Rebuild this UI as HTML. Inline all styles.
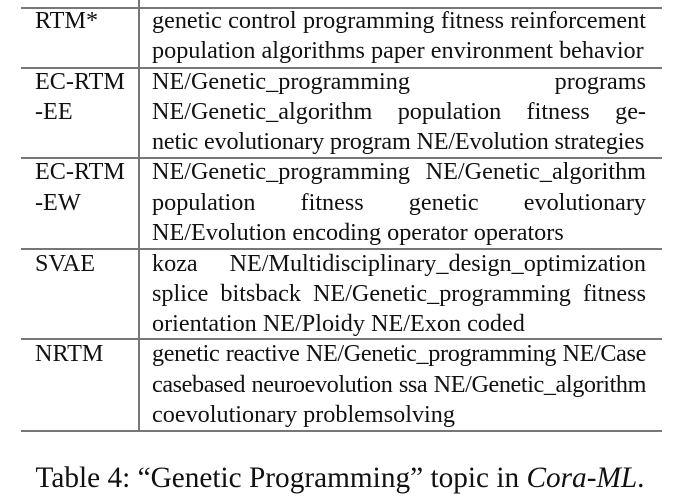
<!DOCTYPE html>
<html><head><meta charset="utf-8"><style>
body{margin:0;width:680px;height:500px;background:#fff;position:relative;overflow:hidden;font-family:"Liberation Serif",serif;color:#111}
.l{position:absolute;font-size:24.2px;line-height:30px;white-space:nowrap}
.c{left:152px;width:494px;text-align:justify;text-align-last:justify}
.e{text-align-last:left}
.k{left:35px}
.h{position:absolute;left:21px;width:641px;height:2px;background:#777}
.v{position:absolute;left:138px;width:2px;top:0;height:432px;background:#777}
.cap{position:absolute;left:0;width:680px;top:461px;text-align:center;font-size:29.3px;line-height:34px}
</style></head><body>
<div class="v"></div>
<div class="h" style="top:7px"></div>
<div class="h" style="top:67px"></div>
<div class="h" style="top:157px"></div>
<div class="h" style="top:248px"></div>
<div class="h" style="top:338px"></div>
<div class="h" style="top:430px;height:2px"></div>

<div class="l k" style="top:6px">RTM*</div>
<div class="l c" style="top:6px">genetic control programming fitness reinforcement</div>
<div class="l c e" style="top:36px">population algorithms paper environment behavior</div>

<div class="l k" style="top:67px">EC-RTM</div>
<div class="l k" style="top:97px">-EE</div>
<div class="l c" style="top:67px">NE/Genetic_programming programs</div>
<div class="l c" style="top:97px">NE/Genetic_algorithm population fitness ge-</div>
<div class="l c e" style="top:127px;letter-spacing:-0.18px">netic evolutionary program NE/Evolution strategies</div>

<div class="l k" style="top:157px">EC-RTM</div>
<div class="l k" style="top:188px">-EW</div>
<div class="l c" style="top:157px">NE/Genetic_programming NE/Genetic_algorithm</div>
<div class="l c" style="top:188px">population fitness genetic evolutionary</div>
<div class="l c e" style="top:218px">NE/Evolution encoding operator operators</div>

<div class="l k" style="top:249px">SVAE</div>
<div class="l c" style="top:249px">koza NE/Multidisciplinary_design_optimization</div>
<div class="l c" style="top:279px">splice bitsback NE/Genetic_programming fitness</div>
<div class="l c e" style="top:309px">orientation NE/Ploidy NE/Exon coded</div>

<div class="l k" style="top:339px">NRTM</div>
<div class="l c" style="top:339px;letter-spacing:-0.35px">genetic reactive NE/Genetic_programming NE/Case</div>
<div class="l c" style="top:370px;letter-spacing:-0.4px">casebased neuroevolution ssa NE/Genetic_algorithm</div>
<div class="l c e" style="top:400px">coevolutionary problemsolving</div>

<div class="cap">Table 4: “Genetic Programming” topic in <i>Cora-ML</i>.</div>
</body></html>
